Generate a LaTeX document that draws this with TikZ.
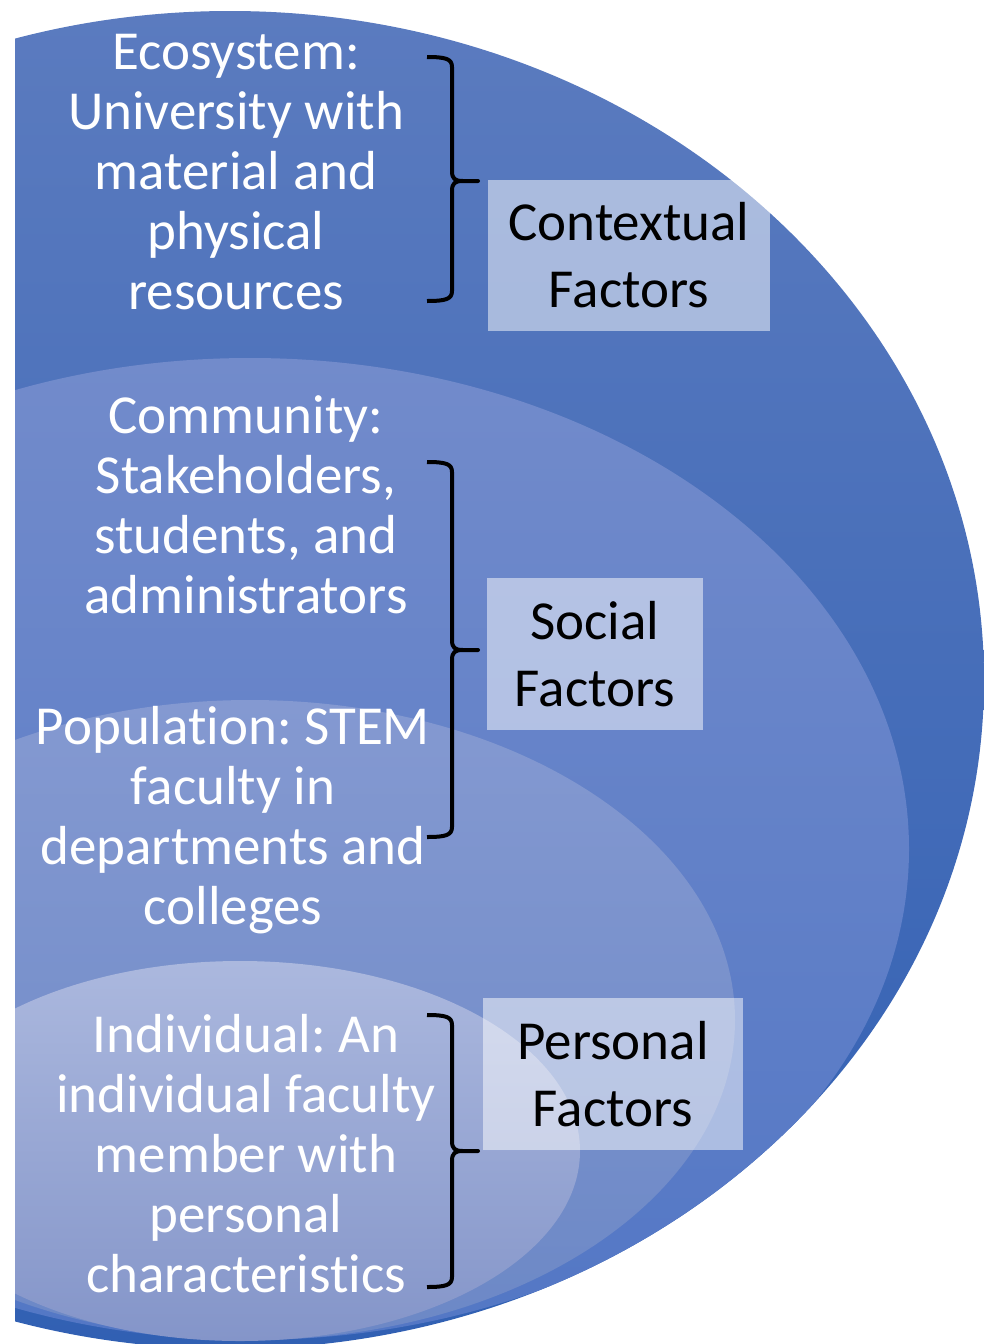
\documentclass[tikz,border=0pt]{standalone}
\usepackage{fontspec}
\setmainfont{Carlito}[Ligatures={NoCommon,NoContextual,NoRare}]
\frenchspacing
\begin{document}
\begin{tikzpicture}[x=1pt,y=-1pt,
  lbl/.style={text=white, align=center, inner sep=0pt, font=\fontsize{55}{60}\selectfont},
  factorbox/.style={fill=white, fill opacity=0.5, text opacity=1, text=black, align=center, inner sep=0pt, font=\fontsize{55}{67}\selectfont},
  brc/.style={draw=black, line width=4pt, line join=round}]
\useasboundingbox (0,0) rectangle (984,1344);
\definecolor{outT}{HTML}{5B7BBF}\definecolor{outB}{HTML}{3160B3}
\definecolor{secT}{HTML}{728BCB}\definecolor{secB}{HTML}{5377C5}
\definecolor{thrT}{HTML}{8499D1}\definecolor{thrB}{HTML}{6C88C6}
\definecolor{fouT}{HTML}{ABB8DE}\definecolor{fouB}{HTML}{8495C9}
\begin{scope}
  \clip (15,0) rectangle (984,1344);
  \shade[top color=outT, bottom color=outB] (230,680) ellipse [x radius=754pt, y radius=669pt];
  \clip (230,680) ellipse [x radius=754pt, y radius=669pt];
  \shade[top color=secT, bottom color=secB] (250,849) ellipse [x radius=659pt, y radius=491pt];
  \shade[top color=thrT, bottom color=thrB] (250,1020) ellipse [x radius=485pt, y radius=320pt];
  \shade[top color=fouT, bottom color=fouB] (240,1151) ellipse [x radius=340pt, y radius=190pt];
\end{scope}

\node[lbl] (eco) at (236,172) {Ecosystem:\\University with\\material and\\physical\\resources};
\node[lbl] (com) at (246,505) {Community:\\Stakeholders,\\students, and\\administrators};
\node[lbl] (pop) at (233,820) {Popu{}la{}t{}ion: STEM\\faculty in\\departments and\\colleges};
\node[lbl] (ind) at (246,1154) {Individual: An\\individual faculty\\member with\\personal\\characterist{}ics};

\node[factorbox, minimum width=282pt, minimum height=151pt] (ctx) at (629,255.5) {Contextual\\Factors};
\node[factorbox, minimum width=216pt, minimum height=152pt] (soc) at (595,654) {Social\\Factors};
\node[factorbox, minimum width=260pt, minimum height=152pt] (per) at (613,1074) {Personal\\Factors};

\newcommand{\officebrace}[3]{%
  \draw[brc] (427,#1) .. controls (446,#1) and (452,#1+2) .. (452,#1+10)
    -- (452,#2-10) .. controls (452,#2-2) and (455,#2) .. (463,#2) -- (478,#2) -- (463,#2)
    .. controls (455,#2) and (452,#2+2) .. (452,#2+10)
    -- (452,#3-10) .. controls (452,#3-2) and (446,#3) .. (427,#3);}
\officebrace{57}{181}{301}
\officebrace{462}{650}{837}
\officebrace{1015}{1151}{1287}
\end{tikzpicture}
\end{document}
